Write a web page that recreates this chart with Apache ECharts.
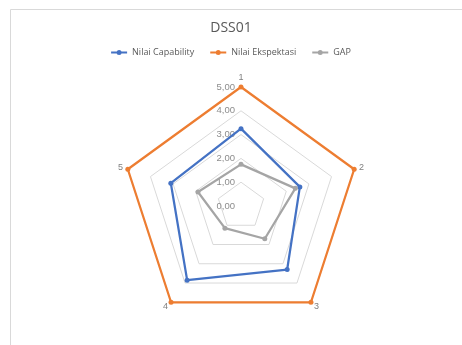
<!DOCTYPE html>
<html>
<head>
<meta charset="utf-8">
<script src="https://cdn.jsdelivr.net/npm/echarts@6/dist/echarts.min.js"></script>
<style>
  html, body { margin: 0; padding: 0; background: #fff; }
  #main { width: 462px; height: 345px; }
</style>
</head>
<body>
<div id="main"></div>
<script>
// axis names, in Excel (clockwise) order
var axes = ['1', '2', '3', '4', '5']
var capability = [3.25, 2.6, 3.3, 3.85, 3.1]
var ekspektasi = [5, 5, 5, 5, 5]
var gap = [1.75, 2.4, 1.7, 1.15, 1.9]

// echarts lays radar axes out counter-clockwise, so flip to keep 1 at top, 2 on the right
function flip(arr) {
  return [arr[0]].concat(arr.slice(1).reverse())
}

function fmt(v) {
  return Number(v).toFixed(2).replace('.', ',')
}

// line with a dot in the middle, like the excel legend
var lineDot = 'path://M0,2.5 H16 V4.5 H0 Z M8,1 A2.5,2.5 0 1,1 8,6 A2.5,2.5 0 1,1 8,1 Z'

function main() {
  var myChart = echarts.init(document.getElementById('main'))
  var names = flip(axes)
  var indicator = names.map(function (n, i) {
    var ind = { name: n, min: 0, max: 5 }
    if (i === 0) {
      ind.axisLabel = {
        show: true, color: '#8c8c8c', fontSize: 9.5, fontFamily: 'Liberation Sans',
        formatter: fmt, margin: 6
      }
    }
    return ind
  })
  var option = {
    animation: false,
    title: {
      text: 'DSS01',
      left: 'center',
      top: 16,
      textStyle: { color: '#595959', fontSize: 14, fontWeight: 'normal', fontFamily: 'Open Sans' }
    },
    legend: {
      top: 43,
      left: 'center',
      itemWidth: 16,
      itemHeight: 7,
      itemGap: 16,
      icon: lineDot,
      textStyle: { color: '#595959', fontSize: 9, fontFamily: 'Open Sans' },
      data: ['Nilai Capability', 'Nilai Ekspektasi', 'GAP']
    },
    radar: {
      center: [241, 206],
      radius: 119,
      startAngle: 90,
      splitNumber: 5,
      shape: 'polygon',
      indicator: indicator,
      axisName: { color: '#7f7f7f', fontSize: 9, fontFamily: 'Liberation Sans' },
      nameGap: 5,
      axisLine: { show: false },
      axisTick: { show: false },
      axisLabel: { show: false },
      splitArea: { show: false },
      splitLine: { lineStyle: { color: '#d9d9d9', width: 1 } }
    },
    graphic: [{
      type: 'rect',
      shape: { x: 10.5, y: 9.5, width: 500, height: 400 },
      style: { fill: null, stroke: '#d9d9d9', lineWidth: 1 },
      silent: true
    }],
    series: [{
      type: 'radar',
      symbol: 'circle',
      symbolSize: 5,
      data: [
        { name: 'Nilai Capability', value: flip(capability),
          lineStyle: { color: '#4472c4', width: 2.25 }, itemStyle: { color: '#4472c4' } },
        { name: 'Nilai Ekspektasi', value: flip(ekspektasi),
          lineStyle: { color: '#ed7d31', width: 2.25 }, itemStyle: { color: '#ed7d31' } },
        { name: 'GAP', value: flip(gap),
          lineStyle: { color: '#a5a5a5', width: 2.25 }, itemStyle: { color: '#a5a5a5' } }
      ]
    }]
  }
  myChart.setOption(option)
}

window.onload = main
</script>
</body>
</html>
